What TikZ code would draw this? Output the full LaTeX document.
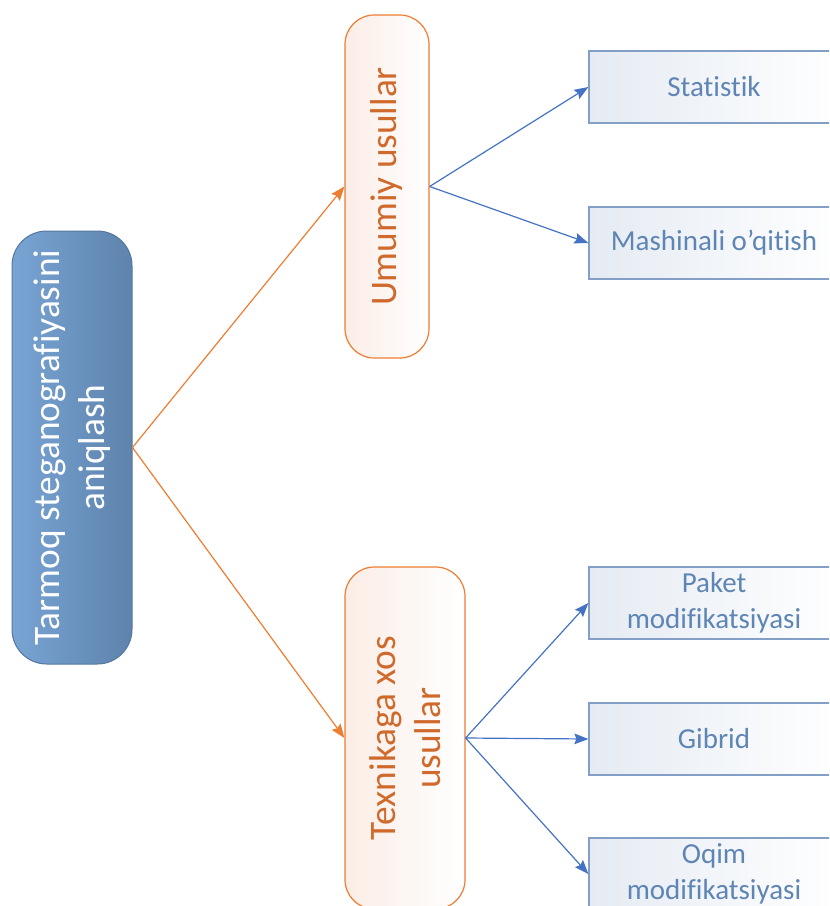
\documentclass[tikz,border=0pt]{standalone}
\usepackage{fontspec}
\setmainfont{Carlito}[Ligatures=NoCommon]
\usetikzlibrary{arrows.meta}
\definecolor{rootlight}{HTML}{78A4D4}
\definecolor{rootdark}{HTML}{5E83AC}
\definecolor{rootedge}{HTML}{5478A0}
\definecolor{methodedge}{HTML}{ED7D31}
\definecolor{methodtext}{HTML}{CF6A2C}
\definecolor{methodfill}{HTML}{FBEDE6}
\definecolor{leafedge}{HTML}{839FC6}
\definecolor{leaftext}{HTML}{5E85B4}
\definecolor{leaffill}{HTML}{E5EBF3}
\definecolor{linkblue}{HTML}{4472C4}
\begin{document}
\begin{tikzpicture}[x=0.75pt, y=-0.75pt,
      every node/.style={font=\fontsize{21.75}{27}\selectfont},
      rootbox/.style={rectangle, rounded corners=26pt, draw=rootedge, line width=0.75pt, left color=rootlight, right color=rootdark, text=white, rotate=90, minimum width=324.75pt, minimum height=90pt, align=center, font=\fontsize{28}{34}\selectfont},
      method/.style={rectangle, rounded corners=22pt, draw=methodedge, line width=0.9pt, left color=methodfill, right color=white, text=methodtext, rotate=90, align=center, font=\fontsize{28}{34}\selectfont},
      leaf/.style={rectangle, draw=leafedge, line width=0.9pt, left color=leaffill, right color=white, text=leaftext, minimum width=187.5pt, minimum height=54pt, align=center},
      toplink/.style={draw=methodedge, line width=0.9pt, -{Stealth[length=10.5pt, width=8pt, inset=1.5pt]}},
      sublink/.style={draw=linkblue, line width=0.9pt, -{Stealth[length=10.5pt, width=8pt, inset=1.5pt]}}
  ]
    \clip (0,0) rectangle (829,906);

    \node[rootbox] (root) at (72,447.5) {Tarmoq steganografiyasini\\aniqlash};
    \node[method, minimum width=257.25pt, minimum height=63pt] (general) at (387,186.5) {Umumiy usullar};
    \node[method, minimum width=256.5pt, minimum height=90pt] (specific) at (405,738) {Texnikaga xos\\usullar};

    \node[leaf] (statistic) at (714,87) {Statistik};
    \node[leaf] (learning) at (714,243) {Mashinali o’qitish};
    \node[leaf] (packet) at (714,603) {Paket\\modifikatsiyasi};
    \node[leaf] (hybrid) at (714,739) {Gibrid};
    \node[leaf] (stream) at (714,874) {Oqim\\modifikatsiyasi};

    \draw[toplink] (root.south) -- (general.north);
    \draw[toplink] (root.south) -- (specific.north);
    \foreach \x in {statistic,learning} {
      \draw[sublink] (general.south) -- (\x.west);
    }
    \foreach \x in {packet,hybrid,stream} {
      \draw[sublink] (specific.south) -- (\x.west);
    }
  \end{tikzpicture}
\end{document}
